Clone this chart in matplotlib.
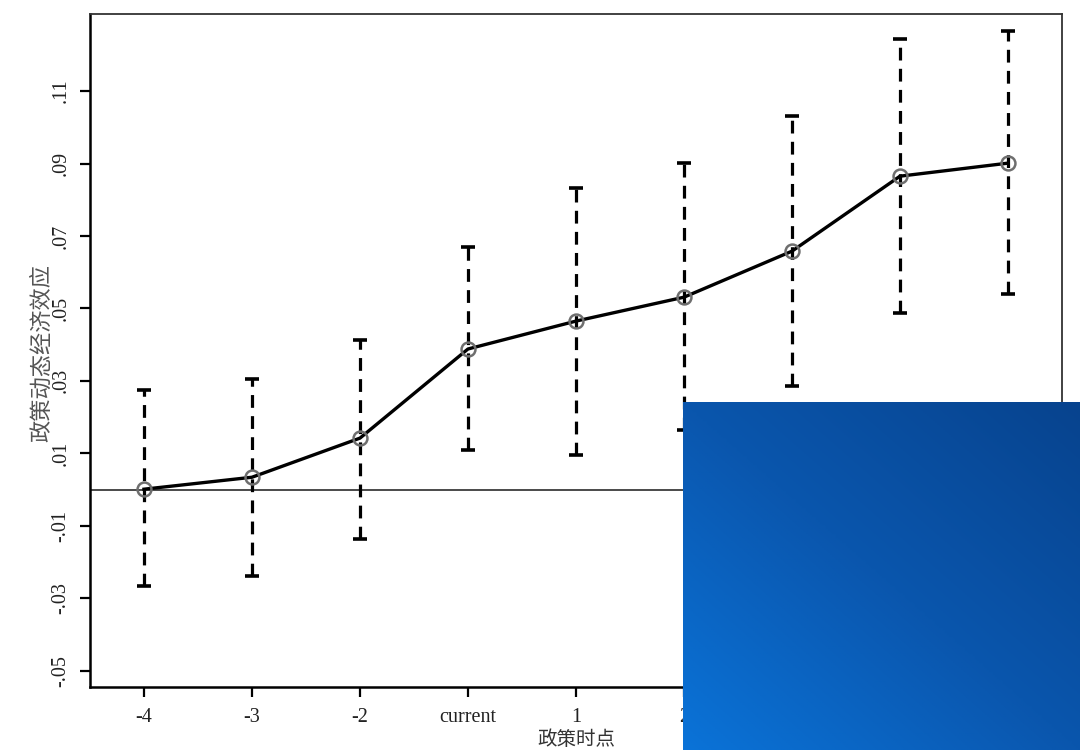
import numpy as np
import matplotlib
matplotlib.use('Agg')
import matplotlib.pyplot as plt
from matplotlib.colors import LinearSegmentedColormap

plt.rcParams['font.family'] = ['Liberation Serif', 'Noto Sans CJK SC']

# ---- data ----
periods = ['-4', '-3', '-2', 'current', '1', '2', '3', '4', '5']
coef = [0.0001, 0.0034, 0.0142, 0.0388, 0.0465, 0.0531, 0.0658, 0.0865, 0.0901]
ci_low = [-0.0266, -0.0239, -0.0137, 0.0109, 0.0095, 0.0164, 0.0286, 0.0487, 0.0539]
ci_high = [0.0275, 0.0305, 0.0412, 0.0669, 0.0832, 0.0901, 0.1030, 0.1243, 0.1265]
yticks = [-0.05, -0.03, -0.01, 0.01, 0.03, 0.05, 0.07, 0.09, 0.11]

x = np.arange(len(periods))

fig = plt.figure(figsize=(10.8, 7.5), dpi=100)
ax = fig.add_axes([0.0833, 0.084, 0.9, 0.897])

ax.axhline(0, color='#4a4a4a', lw=1.4, zorder=1)

# dashed confidence intervals with caps
ax.vlines(x, ci_low, ci_high, colors='black', lw=2.3,
          linestyles=(0, (4, 2.6)), zorder=2)
ax.plot(x, ci_low, ls='none', marker='_', ms=10, mew=2.6, color='black', zorder=2)
ax.plot(x, ci_high, ls='none', marker='_', ms=10, mew=2.6, color='black', zorder=2)

ax.plot(x, coef, '-', color='black', lw=2.4, zorder=3)
ax.plot(x, coef, 'o', ms=10, mfc='none', mec='#6e6e6e', mew=1.8, zorder=4)

ax.set_xlim(-0.5, 8.5)
ax.set_ylim(-0.0545, 0.1312)
ax.set_xticks(x)
ax.set_xticklabels(periods, fontsize=14.5, color='#222222')
ax.set_yticks(yticks)
ax.set_yticklabels([('%.2f' % v).replace('0.', '.') for v in yticks],
                   rotation=90, va='center', fontsize=14.5, color='#222222')
ax.tick_params(axis='both', direction='out', length=7, width=1.6, color='black')
ax.tick_params(axis='x', pad=8)
ax.tick_params(axis='y', pad=7)

for side in ['left', 'bottom']:
    ax.spines[side].set_linewidth(1.8)
for side in ['top', 'right']:
    ax.spines[side].set_linewidth(1.3)
    ax.spines[side].set_color('#333333')

fig.text(42 / 1080, 0.53, '政策动态经济效应', fontsize=16, color='#555555',
         family=['Noto Sans CJK SC'], rotation=90, ha='center', va='center')
fig.text(576 / 1080, 0.0, '政策时点', fontsize=14, color='#333333',
         family=['Noto Sans CJK SC'], ha='center', va='bottom')

# blue overlay panel in the lower right corner of the picture
cmap = LinearSegmentedColormap.from_list('ov', ['#0a73d8', '#0a56ad', '#07438e'])
ov = fig.add_axes([683 / 1080, 0, 397 / 1080, 348 / 750])
gx, gy = np.meshgrid(np.linspace(0, 1, 200), np.linspace(0, 1, 200))
ov.imshow((gx + 1 - gy) / 2, cmap=cmap, origin='upper', aspect='auto',
          extent=[0, 1, 0, 1])
ov.axis('off')

fig.savefig('out.png', dpi=100)
